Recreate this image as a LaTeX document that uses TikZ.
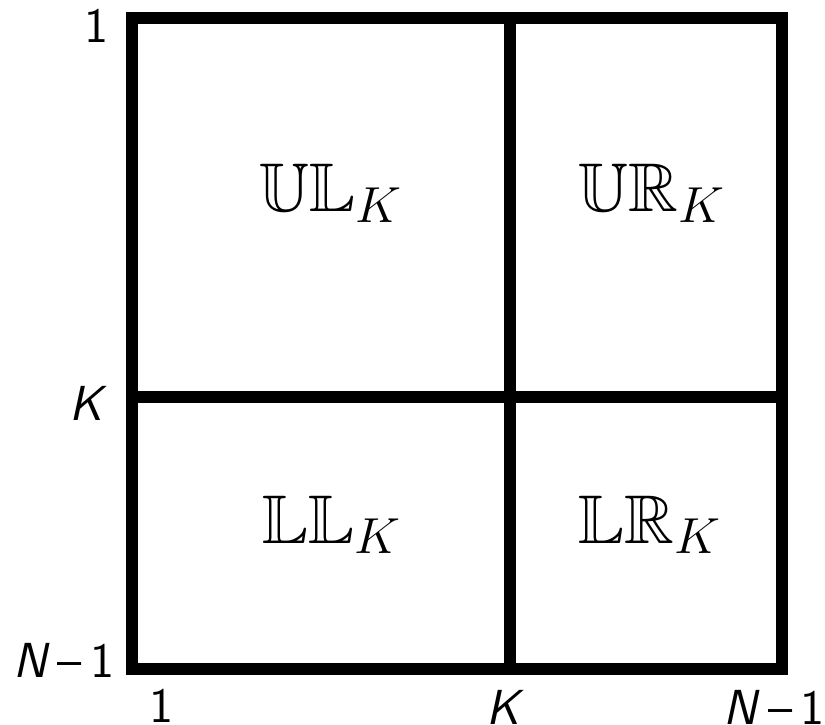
\documentclass[tikz,border=0pt]{standalone}
\usepackage{amssymb}
\usetikzlibrary{math}

\tikzset{
  frameline/.style={line width=3.4pt},
  blocklabel/.style={font=\fontsize{19.6}{24}\selectfont, anchor=base},
  axislabel/.style={font=\fontsize{14}{17}\selectfont\sffamily, inner sep=0pt},
}
\newcommand{\axisN}{\textit{N}\,--\,1}

\begin{document}
\begin{tikzpicture}[x=0.01cm,y=-0.01cm]

\tikzmath{
\xa = 132;
\xb = 510;
\xc = 782;
\ya = 18;
\yb = 397;
\yc = 669;
}
\useasboundingbox (0,0) rectangle (825,725);

% blocks
\draw[frameline] (\xa,\ya) rectangle (\xc,\yc);
\draw[frameline] (\xb,\ya) -- (\xb,\yc);
\draw[frameline] (\xa,\yb) -- (\xc,\yb);

\node[blocklabel] (ul) at (331,212) {$\mathbb{UL}_K$};
\node[blocklabel] (ur) at (652,212) {$\mathbb{UR}_K$};
\node[blocklabel] (ll) at (332,543) {$\mathbb{LL}_K$};
\node[blocklabel] (lr) at (650,543) {$\mathbb{LR}_K$};

% row indices
\node[axislabel, anchor=east] (r1) at (109,26) {1};
\node[axislabel, anchor=east] (rk) at (108,403) {\textit{K}};
\node[axislabel, anchor=east] (rn) at (115,660) {\axisN};

% column indices
\node[axislabel] (c1) at (162,706) {1};
\node[axislabel] (ck) at (505,707) {\textit{K}};
\node[axislabel] (cn) at (774,707) {\axisN};

\end{tikzpicture}
\end{document}
